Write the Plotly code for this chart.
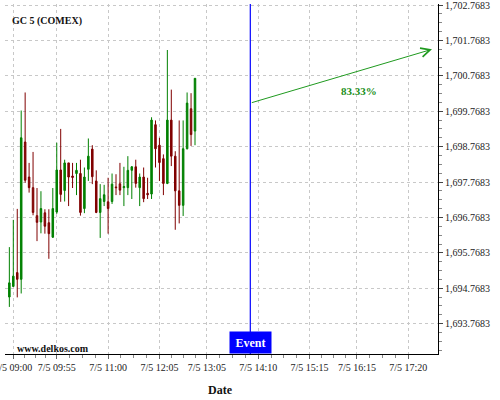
import pandas as pd
import plotly.graph_objects as go

# ---- data ----
day = "2013-07-05"
start_time = "08:55"
n_candles = 48
opens = [1694.52, 1694.82, 1695.21, 1695.02, 1698.90, 1697.91, 1697.61, 1696.82, 1696.64, 1696.90,
         1696.62, 1696.21, 1696.92, 1698.11, 1697.53, 1698.31, 1697.94, 1698.01, 1698.01, 1697.02,
         1698.13, 1698.70, 1697.80, 1696.91, 1697.22, 1697.21, 1697.22, 1697.63, 1697.72, 1697.61,
         1697.61, 1698.10, 1698.20, 1697.61, 1697.91, 1697.45, 1697.43, 1699.39, 1698.81, 1698.43,
         1697.73, 1699.52, 1698.50, 1697.52, 1697.11, 1698.71, 1699.84, 1699.21]
highs = [1695.93, 1696.70, 1697.01, 1699.79, 1700.30, 1698.31, 1698.62, 1697.60, 1697.51, 1697.00,
         1697.00, 1697.60, 1698.88, 1699.27, 1698.40, 1698.31, 1698.31, 1698.31, 1698.40, 1698.18,
         1699.00, 1698.81, 1698.10, 1697.71, 1697.69, 1697.89, 1698.01, 1697.99, 1698.31, 1698.20,
         1698.50, 1698.22, 1698.40, 1698.01, 1698.18, 1697.89, 1699.60, 1699.51, 1699.02, 1698.55,
         1701.50, 1700.38, 1698.64, 1699.51, 1699.51, 1700.30, 1700.28, 1700.70]
lows = [1694.24, 1694.81, 1694.51, 1694.62, 1697.75, 1697.47, 1696.83, 1696.10, 1696.32, 1696.31,
        1695.60, 1696.19, 1696.87, 1697.21, 1697.22, 1697.09, 1697.60, 1697.40, 1696.82, 1696.89,
        1697.80, 1697.71, 1696.89, 1696.19, 1697.09, 1696.31, 1697.15, 1697.40, 1697.40, 1697.09,
        1697.40, 1697.29, 1697.61, 1697.09, 1697.20, 1697.29, 1697.29, 1698.18, 1697.80, 1697.40,
        1697.71, 1698.22, 1696.42, 1696.60, 1696.81, 1698.69, 1698.79, 1698.81]
closes = [1694.92, 1695.11, 1695.02, 1699.02, 1697.82, 1697.61, 1696.91, 1696.63, 1697.02, 1696.52,
          1696.31, 1697.02, 1698.11, 1697.42, 1698.31, 1697.91, 1697.90, 1698.10, 1696.91, 1697.91,
          1698.50, 1697.92, 1696.91, 1697.30, 1697.41, 1697.02, 1697.71, 1697.61, 1697.54, 1697.64,
          1698.10, 1698.20, 1697.73, 1697.91, 1697.30, 1697.41, 1699.52, 1698.71, 1698.32, 1697.73,
          1699.52, 1698.50, 1697.52, 1697.11, 1698.71, 1700.00, 1699.11, 1700.70]

tick_times = ["09:00", "09:55", "11:00", "12:05", "13:05", "14:10", "15:15", "16:15", "17:20"]
tick_labels = ["7/5 " + t for t in tick_times]
y_tick0 = 1693.7683
y_range = [1692.91, 1702.80]
x_range = ["08:49:30", "17:57:36"]

event_time = "14:00"
arrow_start = ("14:00", 1700.00)
arrow_end = ("17:50", 1701.52)
arrow_label = "83.33%"
label_pos = ("16:17", 1700.33)
title_text = "GC 5 (COMEX)"
watermark = "www.delkos.com"

# ---- build ----
times = pd.date_range(f"{day} {start_time}", periods=n_candles, freq="5min")
major = [pd.Timestamp(f"{day} {t}") for t in tick_times]
minor = []
for a, b in zip(major[:-1], major[1:]):
    for k in (1, 2, 3):
        minor.append(a + (b - a) * k / 4)

SERIF = "Liberation Serif, Times New Roman, serif"
GREEN = "#008000"
RED = "#800000"

fig = go.Figure()
fig.add_trace(go.Candlestick(
    x=times, open=opens, high=highs, low=lows, close=closes,
    increasing=dict(line=dict(color=GREEN, width=1), fillcolor=GREEN),
    decreasing=dict(line=dict(color=RED, width=1), fillcolor=RED),
    whiskerwidth=0, showlegend=False, hoverinfo="skip",
))

ev = pd.Timestamp(f"{day} {event_time}")
fig.add_shape(type="line", x0=ev, x1=ev, xref="x", yref="paper", y0=0, y1=1,
              line=dict(color="#0000ff", width=1.2))

fig.add_annotation(
    x=pd.Timestamp(f"{day} {arrow_end[0]}"), y=arrow_end[1], xref="x", yref="y",
    ax=pd.Timestamp(f"{day} {arrow_start[0]}"), ay=arrow_start[1], axref="x", ayref="y",
    showarrow=True, arrowhead=5, arrowsize=1.8, arrowwidth=1, arrowcolor="#1f9a1f", text="",
)
fig.add_annotation(
    x=pd.Timestamp(f"{day} {label_pos[0]}"), y=label_pos[1], xref="x", yref="y",
    text="<b>" + arrow_label + "</b>", showarrow=False,
    font=dict(family=SERIF, size=11, color="#1a8f1a"),
)
fig.add_annotation(
    x=ev, y=0, xref="x", yref="paper", yanchor="bottom",
    text="<b>Event</b>", showarrow=False, bgcolor="#0000ff",
    width=41, height=21, borderpad=0,
    font=dict(family=SERIF, size=12, color="white"),
)
fig.add_annotation(
    x=5 / 433, y=1 - 17 / 350, xref="paper", yref="paper", xanchor="left", yanchor="middle",
    text="<b>" + title_text + "</b>", showarrow=False,
    font=dict(family=SERIF, size=10, color="#111"),
)
fig.add_annotation(
    x=10 / 433, y=6 / 350, xref="paper", yref="paper", xanchor="left", yanchor="middle",
    text="<b>" + watermark + "</b>", showarrow=False,
    font=dict(family=SERIF, size=10, color="#111"),
)
fig.add_annotation(
    x=0.4988, y=-36 / 350, xref="paper", yref="paper", xanchor="center", yanchor="middle",
    text="<b>Date</b>", showarrow=False,
    font=dict(family=SERIF, size=12, color="#111"),
)

fig.update_layout(
    width=500, height=400,
    margin=dict(l=5, r=62, t=4, b=46, autoexpand=False),
    paper_bgcolor="white", plot_bgcolor="white",
    boxgap=0.45,
    showlegend=False,
    font=dict(family=SERIF, size=10, color="#222"),
    xaxis=dict(
        type="date",
        range=[f"{day} {x_range[0]}", f"{day} {x_range[1]}"],
        rangeslider=dict(visible=False),
        tickmode="array", tickvals=major, ticktext=tick_labels,
        ticklabeloverflow="allow", automargin=False,
        showgrid=True, gridcolor="#c8c8c8", griddash="3px,3px", gridwidth=1,
        showline=True, linecolor="black", linewidth=1.2,
        ticks="outside", ticklen=4, tickcolor="#666",
        minor=dict(tickmode="array", tickvals=minor, ticks="outside", ticklen=3,
                   tickcolor="#888", showgrid=False),
        tickfont=dict(family=SERIF, size=10, color="#222"),
        zeroline=False, fixedrange=True,
    ),
    yaxis=dict(
        side="right",
        range=y_range, automargin=False, ticklabeloverflow="allow",
        tickmode="linear", tick0=y_tick0, dtick=1, tickformat=",.4f",
        showgrid=True, gridcolor="#c8c8c8", griddash="3px,3px", gridwidth=1,
        showline=True, linecolor="black", linewidth=1.2,
        ticks="outside", ticklen=4, tickcolor="#444",
        minor=dict(tick0=y_tick0, dtick=0.25, ticks="outside", ticklen=3,
                   tickcolor="#888", showgrid=False),
        tickfont=dict(family=SERIF, size=10, color="#222"),
        zeroline=False, fixedrange=True,
    ),
)

fig.write_html("out.html", config={"displayModeBar": False},
               post_script="document.body.style.margin='0px';")
